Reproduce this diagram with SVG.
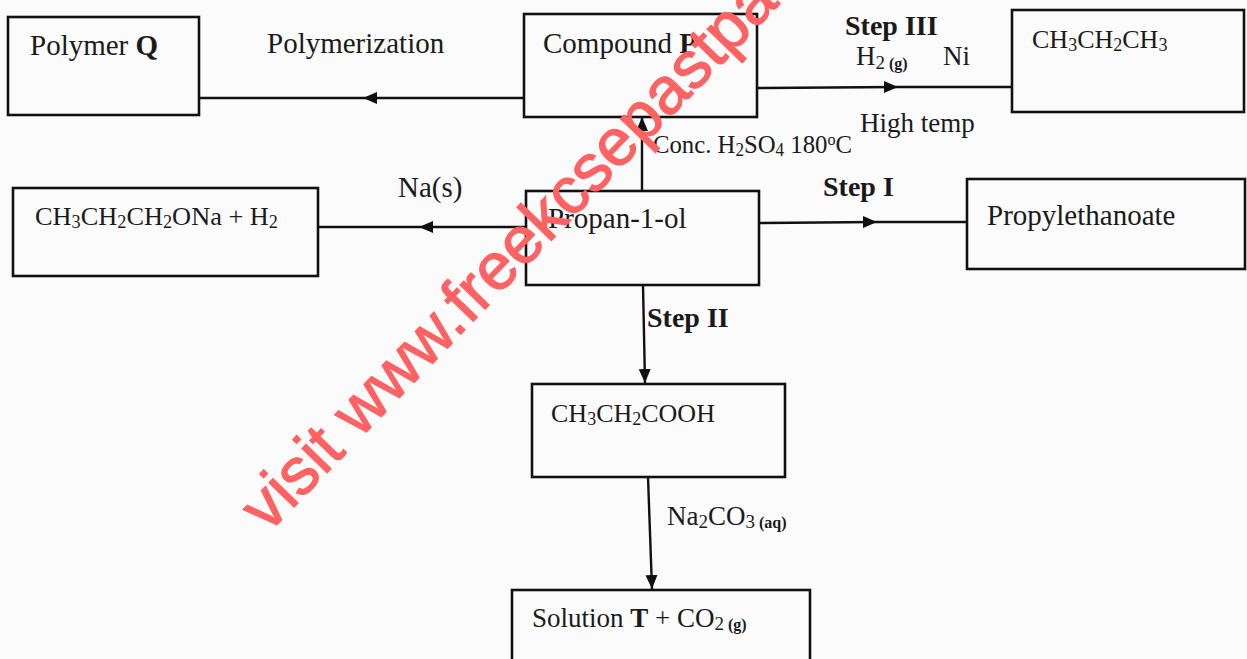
<svg xmlns="http://www.w3.org/2000/svg" width="1247" height="659" viewBox="0 0 1247 659">
<defs>
<marker id="arr" markerUnits="userSpaceOnUse" markerWidth="15" markerHeight="13" refX="14" refY="6" orient="auto">
<path d="M0,0 L14,6 L0,12 z" fill="#111"/>
</marker>
<style>
.box{fill:none;stroke:#111;stroke-width:2.6}
.con{fill:none;stroke:#111;stroke-width:2.4}
.mid{marker-mid:url(#arr)}
.end{marker-end:url(#arr)}
text{font-family:"Liberation Serif","Times New Roman",serif;fill:#1a1a1a}
.t{font-size:29px}
.f{font-size:26px}
.s{font-size:28px;font-weight:bold}
.c{font-size:27px}
.b{font-weight:bold}
.wm{font-family:"Liberation Sans",Arial,sans-serif;font-size:66px;fill:#ff6262;stroke:#ff6262;stroke-width:1.2}
</style>
</defs>
<rect width="1247" height="659" fill="#fbfbfb"/>

<g id="connectors">
<path class="con mid" d="M524,98 L363,98 L199,98"/>
<path class="con mid" d="M757,88 L898,87 L1012,87"/>
<path class="con end" d="M642,191 L642,117"/>
<path class="con mid" d="M526,227 L419,227 L318,227"/>
<path class="con mid" d="M759,223 L877,222 L967,222"/>
<path class="con end" d="M643,285 L645,383"/>
<path class="con end" d="M648,477 L652,589"/>
</g>

<g id="labels">
<text class="t" x="267" y="53">Polymerization</text>
<text class="s" x="845" y="35">Step III</text>
<text class="c" x="856" y="65">H<tspan font-size="19" dy="4">2</tspan><tspan font-size="16" font-weight="bold"> (g)</tspan></text>
<text class="c" x="943" y="65">Ni</text>
<text class="f" x="653" y="153" textLength="199" lengthAdjust="spacingAndGlyphs">Conc. H<tspan font-size="18" dy="3">2</tspan><tspan dy="-3">SO</tspan><tspan font-size="18" dy="3">4</tspan><tspan dy="-3"> 180</tspan><tspan font-size="17" dy="-8">o</tspan><tspan dy="8">C</tspan></text>
<text class="c" x="860" y="132">High temp</text>
<text class="t" x="398" y="197">Na(s)</text>
<text class="s" x="823" y="196">Step I</text>
<text class="s" x="647" y="327">Step II</text>
<text class="c" x="667" y="525">Na<tspan font-size="19" dy="3">2</tspan><tspan dy="-3">CO</tspan><tspan font-size="19" dy="3">3</tspan><tspan font-size="16" font-weight="bold"> (aq)</tspan></text>
</g>

<g id="polymerQ">
<rect class="box" x="8" y="17" width="191" height="98"/>
<text class="t" x="30" y="55">Polymer <tspan class="b">Q</tspan></text>
</g>

<g id="compoundP">
<rect class="box" x="524" y="14" width="233" height="103"/>
<text class="t" x="543" y="53">Compound <tspan class="b">P</tspan></text>
</g>

<g id="propane">
<rect class="box" x="1012" y="10" width="232" height="102"/>
<text class="f" x="1032" y="48">CH<tspan font-size="18" dy="3">3</tspan><tspan dy="-3">CH</tspan><tspan font-size="18" dy="3">2</tspan><tspan dy="-3">CH</tspan><tspan font-size="18" dy="3">3</tspan></text>
</g>

<g id="sodiumPropoxide">
<rect class="box" x="13" y="188" width="305" height="88"/>
<text class="f" x="35" y="225" textLength="243" lengthAdjust="spacingAndGlyphs">CH<tspan font-size="18" dy="3">3</tspan><tspan dy="-3">CH</tspan><tspan font-size="18" dy="3">2</tspan><tspan dy="-3">CH</tspan><tspan font-size="18" dy="3">2</tspan><tspan dy="-3">ONa + H</tspan><tspan font-size="18" dy="3">2</tspan></text>
</g>

<g id="propanol">
<rect class="box" x="526" y="191" width="233" height="94"/>
<text class="t" x="548" y="228">Propan-1-ol</text>
</g>

<g id="propylethanoate">
<rect class="box" x="967" y="179" width="278" height="90"/>
<text class="t" x="987" y="225">Propylethanoate</text>
</g>

<g id="propanoicAcid">
<rect class="box" x="532" y="384" width="253" height="93"/>
<text class="f" x="551" y="422">CH<tspan font-size="18" dy="3">3</tspan><tspan dy="-3">CH</tspan><tspan font-size="18" dy="3">2</tspan><tspan dy="-3">COOH</tspan></text>
</g>

<g id="solutionT">
<rect class="box" x="512" y="590" width="298" height="80"/>
<text class="c" x="532" y="627">Solution <tspan class="b">T</tspan> + CO<tspan font-size="19" dy="3">2</tspan><tspan font-size="16" font-weight="bold"> (g)</tspan></text>
</g>

<text class="wm" transform="translate(268,534) rotate(-46)">visit www.freekcsepastpa</text>
</svg>
